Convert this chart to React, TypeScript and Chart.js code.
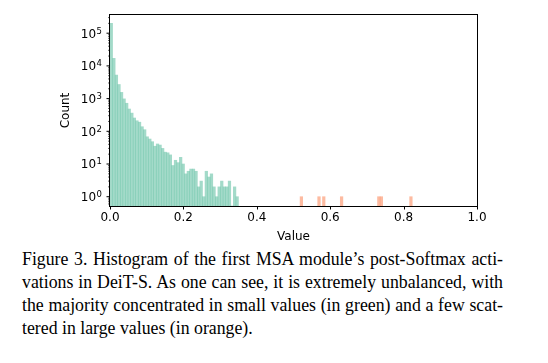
import React, { useEffect, useRef } from 'react';
import { Chart, registerables } from 'chart.js';

Chart.register(...registerables);

// ---- data ----
const BIN_WIDTH = 0.007;
const greenCounts = [
  200000, 17000, 5200, 2700, 1550, 980, 720, 480, 360, 255,
  210, 190, 138, 112, 68, 58, 48, 35, 41, 38,
  30, 23, 22, 19, 9, 13, 11, 16, 10, 5,
  6, 7, 7, 6, 2, 3, 1, 6, 4, 5,
  2, 1, 2, 3, 2, 2, 3, 0, 2, 1,
];
const greenCenters = greenCounts.map((_, i) => (i + 0.5) * BIN_WIDTH);
const orangeCenters = [0.5215, 0.5695, 0.5825, 0.631, 0.7325, 0.7395, 0.82];
const orangeCounts = [1, 1, 1, 1, 1, 1, 1];
const xTickValues = [0, 0.2, 0.4, 0.6, 0.8, 1.0];
const yExponents = [0, 1, 2, 3, 4, 5];
const X_MIN = 0;
const X_MAX = 1;
const Y_MIN = 0.52;
const Y_MAX = 360000;
const X_TITLE = 'Value';
const Y_TITLE = 'Count';
const captionLines = [
  'Figure 3. Histogram of the first MSA module\u2019s post-Softmax acti-',
  'vations in DeiT-S. As one can see, it is extremely unbalanced, with',
  'the majority concentrated in small values (in green) and a few scat-',
  'tered in large values (in orange).',
];

const isPow10 = (v: number) => {
  const e = Math.log10(v);
  return Math.abs(e - Math.round(e)) < 1e-9;
};

const FONT = 'DejaVu Sans';

const frameAndTicks = {
  id: 'frameAndTicks',
  afterDraw(chart: any) {
    const { ctx, chartArea } = chart;
    const { left, right, top, bottom } = chartArea;
    const xs = chart.scales.x;
    const ys = chart.scales.y;
    ctx.save();
    ctx.strokeStyle = '#000';
    ctx.lineWidth = 1;
    xs.ticks.forEach((t: any) => {
      const px = Math.round(xs.getPixelForValue(t.value)) + 0.5;
      ctx.beginPath();
      ctx.moveTo(px, bottom);
      ctx.lineTo(px, bottom + 3.5);
      ctx.stroke();
    });
    ys.ticks.forEach((t: any) => {
      const major = isPow10(t.value);
      const py = ys.getPixelForValue(t.value);
      ctx.lineWidth = major ? 1 : 0.6;
      ctx.beginPath();
      ctx.moveTo(left, py);
      ctx.lineTo(left - (major ? 3.5 : 2), py);
      ctx.stroke();
    });
    ctx.lineWidth = 1;
    ctx.strokeRect(Math.round(left) - 0.5, Math.round(top) - 0.5, Math.round(right - left) + 1, Math.round(bottom - top) + 1);

    // y tick labels as 10 with a raised exponent (like mathtext)
    ctx.fillStyle = '#000';
    ctx.textBaseline = 'alphabetic';
    ctx.textAlign = 'left';
    yExponents.forEach((e) => {
      const py = ys.getPixelForValue(Math.pow(10, e));
      const expText = String(e);
      ctx.font = `8.5px '${FONT}'`;
      const we = ctx.measureText(expText).width;
      ctx.font = `12px '${FONT}'`;
      const wb = ctx.measureText('10').width;
      const xr = left - 8;
      const base = py + 4.4;
      ctx.fillText('10', xr - we - wb - 0.5, base);
      ctx.font = `8.5px '${FONT}'`;
      ctx.fillText(expText, xr - we, base - 4);
    });
    ctx.restore();
  },
};

function HistChart() {
  const ref = useRef<HTMLCanvasElement | null>(null);
  useEffect(() => {
    if (!ref.current) return;
    const chart = new Chart(ref.current, {
      type: 'bar',
      data: {
        datasets: [
          {
            label: 'small',
            data: greenCenters.map((x, i) => ({ x, y: greenCounts[i] })),
            backgroundColor: 'rgba(102,194,165,0.6)',
            borderWidth: 0,
            grouped: false,
            barPercentage: 1,
            categoryPercentage: 1,
          } as any,
          {
            label: 'large',
            data: orangeCenters.map((x, i) => ({ x, y: orangeCounts[i] })),
            backgroundColor: 'rgba(252,141,98,0.6)',
            borderWidth: 0,
            grouped: false,
            barPercentage: 1,
            categoryPercentage: 1,
          } as any,
        ],
      },
      options: {
        animation: false,
        responsive: false,
        maintainAspectRatio: false,
        layout: { padding: { left: 0, right: 71, top: 15, bottom: 0 } },
        plugins: { legend: { display: false }, tooltip: { enabled: false } },
        scales: {
          x: {
            type: 'linear',
            min: X_MIN,
            max: X_MAX,
            offset: false,
            grid: { display: false, drawTicks: false },
            border: { display: false },
            afterBuildTicks: (s: any) => {
              s.ticks = xTickValues.map((v) => ({ value: v }));
            },
            afterFit: (s: any) => {
              s.height = 39;
            },
            ticks: {
              autoSkip: false,
              maxRotation: 0,
              padding: 5,
              color: '#000',
              font: { family: FONT, size: 12 },
              callback: (v: any) => Number(v).toFixed(1),
            },
            title: {
              display: true,
              text: X_TITLE,
              color: '#000',
              font: { family: FONT, size: 12 },
              padding: { top: 0, bottom: 1 },
            },
          },
          y: {
            type: 'logarithmic',
            min: Y_MIN,
            max: Y_MAX,
            grid: { display: false, drawTicks: false },
            border: { display: false },
            afterBuildTicks: (s: any) => {
              const ticks: any[] = [];
              for (let e = -1; e <= 6; e++) {
                for (let m = 1; m <= 9; m++) {
                  const v = m * Math.pow(10, e);
                  if (v >= Y_MIN && v <= Y_MAX) ticks.push({ value: v });
                }
              }
              s.ticks = ticks;
            },
            afterFit: (s: any) => {
              s.width = 110;
            },
            ticks: {
              autoSkip: false,
              padding: 6,
              color: '#000',
              font: { family: FONT, size: 12 },
              callback: () => '',
            },
            title: {
              display: true,
              text: Y_TITLE,
              color: '#000',
              font: { family: FONT, size: 12 },
              padding: { top: 59, bottom: 0 },
            },
          },
        },
      } as any,
      plugins: [frameAndTicks],
    });
    return () => chart.destroy();
  }, []);
  return <canvas ref={ref} width={548} height={245} style={{ position: 'absolute', left: 0, top: 0, width: 548, height: 245 }} />;
}

export default function App() {
  return (
    <div style={{ position: 'absolute', left: 0, top: 0, width: 548, height: 363, background: '#fff', overflow: 'hidden' }}>
      <HistChart />
      <div
        style={{
          position: 'absolute',
          left: 22,
          top: 248,
          width: 481,
          fontFamily: "'Liberation Serif', 'Times New Roman', serif",
          fontSize: 17.8,
          lineHeight: '23px',
          color: '#000',
        }}
      >
        {captionLines.map((line, i) => (
          <div
            key={i}
            style={{
              textAlign: i < captionLines.length - 1 ? 'justify' : 'left',
              textAlignLast: i < captionLines.length - 1 ? 'justify' : 'left',
              whiteSpace: 'nowrap',
            } as any}
          >
            {line}
          </div>
        ))}
      </div>
    </div>
  );
}
